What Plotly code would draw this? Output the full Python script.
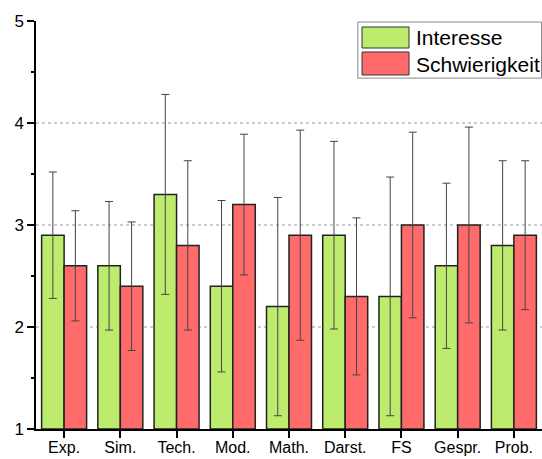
import plotly.graph_objects as go

categories = ["Exp.", "Sim.", "Tech.", "Mod.", "Math.", "Darst.", "FS", "Gespr.", "Prob."]
interesse = [2.9, 2.6, 3.3, 2.4, 2.2, 2.9, 2.3, 2.6, 2.8]
interesse_err = [0.62, 0.63, 0.98, 0.84, 1.07, 0.92, 1.17, 0.81, 0.83]
schwierigkeit = [2.6, 2.4, 2.8, 3.2, 2.9, 2.3, 3.0, 3.0, 2.9]
schwierigkeit_err = [0.54, 0.63, 0.83, 0.69, 1.03, 0.77, 0.91, 0.96, 0.73]
series_names = ["Interesse", "Schwierigkeit"]
y_ticks = [1, 2, 3, 4, 5]
grid_vals = [2, 3, 4]

green = "#BCEB6E"
red = "#FF6B6B"
font = "Liberation Sans, Arial, sans-serif"

fig = go.Figure()
for name, vals, errs, col in [(series_names[0], interesse, interesse_err, green),
                              (series_names[1], schwierigkeit, schwierigkeit_err, red)]:
    fig.add_trace(go.Bar(
        x=categories, y=[v - 1 for v in vals], base=1, name=name,
        marker=dict(color=col, line=dict(color="#222222", width=1.5)),
        error_y=dict(type="data", array=errs, color="#444444", thickness=1, width=4),
        showlegend=False,
    ))

shapes = []
for g in grid_vals:
    shapes.append(dict(type="line", xref="paper", yref="y", x0=0, x1=1, y0=g, y1=g,
                       line=dict(color="#999999", width=1, dash="3px,3px"), layer="below"))

# legend box
lx0, lx1, ly0, ly1 = 0.636, 1.0, 0.860, 0.9975
shapes.append(dict(type="rect", xref="paper", yref="paper", x0=lx0, x1=lx1 - 0.001, y0=ly0, y1=ly1,
                   line=dict(color="#888888", width=1), fillcolor="white"))
sw = [(0.9853, 0.9338, green), (0.9240, 0.8677, red)]
for (yt, yb, col) in sw:
    shapes.append(dict(type="rect", xref="paper", yref="paper", x0=0.6443, x1=0.7372, y0=yb, y1=yt,
                       line=dict(color="#333333", width=1), fillcolor=col))
annotations = []
for name, yc in [(series_names[0], 0.9590), (series_names[1], 0.8946)]:
    annotations.append(dict(text=name, xref="paper", yref="paper", x=0.747, y=yc,
                            xanchor="left", yanchor="middle", showarrow=False,
                            font=dict(family=font, size=21, color="black")))

fig.update_layout(
    width=542, height=459,
    margin=dict(l=36, r=0, t=21, b=30),
    paper_bgcolor="white", plot_bgcolor="white",
    barmode="group", bargap=0.2, bargroupgap=0,
    font=dict(family=font, size=17, color="black"),
    shapes=shapes, annotations=annotations,
    xaxis=dict(showline=True, linecolor="black", linewidth=1.5, ticks="outside",
               ticklen=7, tickwidth=1.5, tickcolor="black", showgrid=False,
               tickfont=dict(size=16), range=[-0.5, 8.5], automargin=False,
               ticklabelstandoff=-4),
    yaxis=dict(range=[1, 5], tickvals=y_ticks, showline=True, linecolor="black",
               linewidth=1.5, ticks="outside", ticklen=7, tickwidth=1.5, tickcolor="black",
               showgrid=False, zeroline=False, tickfont=dict(size=17), automargin=False,
               minor=dict(dtick=0.5, tick0=1, ticks="outside", ticklen=3, tickwidth=1.5,
                          tickcolor="black", showgrid=False)),
)

fig.write_html("out.html", config={"displayModeBar": False},
               post_script="document.body.style.margin='0';document.body.style.overflow='hidden';")
